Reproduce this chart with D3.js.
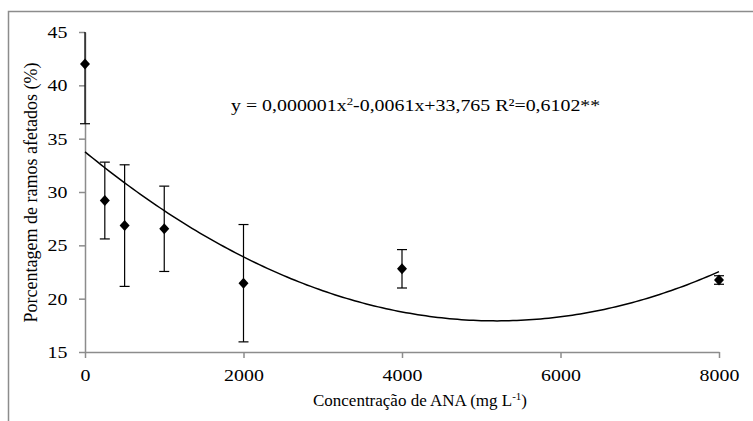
<!DOCTYPE html>
<html>
<head>
<meta charset="utf-8">
<script src="https://cdn.jsdelivr.net/npm/d3@7"></script>
<style>
  html, body { margin: 0; padding: 0; background: #fff; }
</style>
</head>
<body>
<svg id="chart" width="753" height="421"></svg>
<script>
// ANA concentration (mg L-1) and share of affected branches (%)
const concentrations = [0, 250, 500, 1000, 2000, 4000, 8000];
const meanValues     = [42.0, 29.2, 26.85, 26.55, 21.45, 22.8, 21.75];
const errorValues    = [5.6, 3.6, 5.7, 4.0, 5.5, 1.8, 0.4];
const xTicks = [0, 2000, 4000, 6000, 8000];
const yTicks = [15, 20, 25, 30, 35, 40, 45];
// quadratic trend line: a*x^2 + b*x + c
const trendCoefs = [5.87e-7, -0.0061, 33.765];

const FONT = '"Liberation Serif"';
const fontSize = "17px";
const WIDE = "scale(1.17,1)";   // slightly widened horizontal lettering

const svg = d3.select("#chart");
const W = 753, H = 421;
const plotLeft = 85, plotRight = 719, plotTop = 32, plotBottom = 352;

// outer frame (top and left edges)
svg.append("path")
  .attr("d", `M8.5,${H} V11.5 H${W}`)
  .attr("fill", "none").attr("stroke", "#8c8c8c").attr("stroke-width", 1.5);

const x = d3.scaleLinear().domain([0, 8000]).range([plotLeft, plotRight]);
const y = d3.scaleLinear().domain([15, 45]).range([plotBottom, plotTop]);

// y axis
const yAxis = svg.append("g").attr("transform", `translate(${plotLeft},0)`)
  .call(d3.axisLeft(y).tickValues(yTicks).tickFormat(d3.format("d"))
    .tickSize(6).tickPadding(9).tickSizeOuter(0));
// x axis
const xAxis = svg.append("g").attr("transform", `translate(0,${plotBottom})`)
  .call(d3.axisBottom(x).tickValues(xTicks).tickFormat(d3.format("d"))
    .tickSize(6).tickPadding(11).tickSizeOuter(0));
[yAxis, xAxis].forEach(g => {
  g.attr("font-family", null).attr("font-size", null);
  g.select(".domain").attr("stroke", "#8c8c8c").attr("stroke-width", 1.5);
  g.selectAll(".tick line").attr("stroke", "#8c8c8c").attr("stroke-width", 1.5);
  g.selectAll(".tick text")
    .style("font-family", FONT).style("font-size", fontSize).attr("fill", "#000")
    .attr("transform", WIDE);
});

// axis titles
svg.append("text")
  .attr("x", 420).attr("y", 406)
  .attr("text-anchor", "middle")
  .style("font-family", FONT).style("font-size", fontSize)
  .html('Concentração de ANA (mg L<tspan dy="-6" style="font-size:11px">-1</tspan><tspan dy="6">)</tspan>');

svg.append("text")
  .attr("transform", `translate(37,${(62 + 323) / 2}) rotate(-90)`)
  .attr("text-anchor", "middle")
  .style("font-family", FONT).style("font-size", "18px")
  .text("Porcentagem de ramos afetados (%)");

// clip marks to plotting area
svg.append("clipPath").attr("id", "plot-clip")
  .append("rect").attr("x", plotLeft - 10).attr("y", plotTop)
  .attr("width", plotRight - plotLeft + 20).attr("height", plotBottom - plotTop);

const data = concentrations.map((c, i) => ({ c, m: meanValues[i], e: errorValues[i] }));

// trend line
const trend = xv => trendCoefs[0] * xv * xv + trendCoefs[1] * xv + trendCoefs[2];
const trendPts = d3.range(0, 8001, 50).map(xv => [x(xv), y(trend(xv))]);
svg.append("path")
  .attr("d", d3.line()(trendPts))
  .attr("fill", "none").attr("stroke", "#000").attr("stroke-width", 1.5);

// error bars
const eb = svg.append("g").attr("clip-path", "url(#plot-clip)")
  .attr("stroke", "#000").attr("stroke-width", 1.2);
data.forEach(d => {
  const cx = x(d.c);
  eb.append("line").attr("x1", cx).attr("x2", cx).attr("y1", y(d.m + d.e)).attr("y2", y(d.m - d.e));
  [d.m + d.e, d.m - d.e].forEach(v => {
    eb.append("line").attr("x1", cx - 5).attr("x2", cx + 5).attr("y1", y(v)).attr("y2", y(v));
  });
});

// diamond markers
svg.append("g").selectAll("path").data(data).join("path")
  .attr("transform", d => `translate(${x(d.c)},${y(d.m)})`)
  .attr("d", "M0,-5.5 L5,0 L0,5.5 L-5,0 Z")
  .attr("fill", "#000");

// regression equation
svg.append("g").attr("transform", `translate(231,111) ${WIDE}`)
  .append("text")
  .style("font-family", FONT).style("font-size", fontSize)
  .html('y = 0,000001x<tspan dy="-6" style="font-size:11px">2</tspan><tspan dy="6">-0,0061x+33,765 R²=0,6102**</tspan>');
</script>
</body>
</html>
